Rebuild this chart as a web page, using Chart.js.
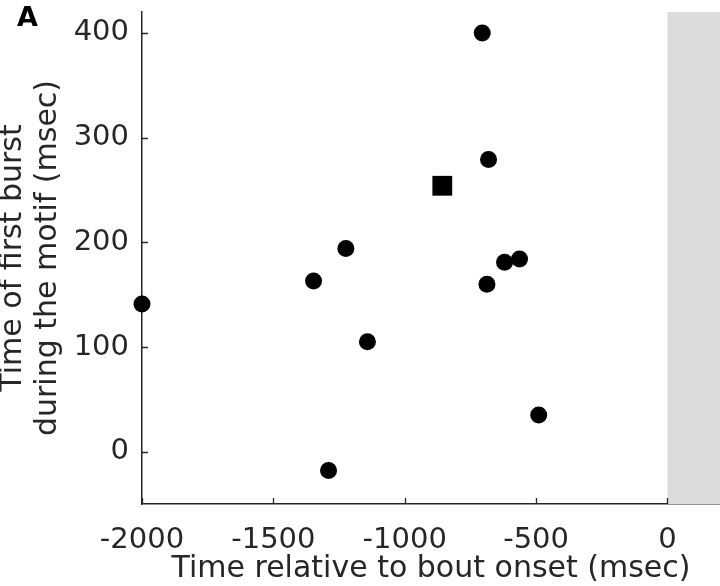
<!DOCTYPE html>
<html>
<head>
<meta charset="utf-8">
<script src="https://cdn.jsdelivr.net/npm/chart.js@4"></script>
<style>
  html, body { margin: 0; padding: 0; background: #fff; }
  #wrap { width: 720px; height: 586px; }
</style>
</head>
<body>
<div id="wrap"><canvas id="burstChart" width="720" height="586"></canvas></div>
<script>
// cells (circles): time relative to bout onset vs time of first burst
const cellX = [-2000, -1347, -1224, -1142, -1290, -705, -681, -620, -563, -687, -490];
const cellY = [141, 163, 194, 105, -18, 400, 279, 181, 184, 160, 35];
// mean (square)
const meanX = [-857];
const meanY = [254];

const xTicks = [-2000, -1500, -1000, -500, 0];
const yTicks = [0, 100, 200, 300, 400];
const xRange = [-2000, 200];
const yRange = [-50, 420];
const shadeRange = [0, 200];

const axisColor = "#262626";
const fontFamily = "'DejaVu Sans', sans-serif";

const toPoints = (xs, ys) => xs.map((x, i) => ({ x: x, y: ys[i] }));

// grey band after bout onset
const shadePlugin = {
    id: "shade",
    beforeDatasetsDraw(chart) {
        const { ctx, chartArea, scales } = chart;
        const x0 = scales.x.getPixelForValue(shadeRange[0]);
        const x1 = scales.x.getPixelForValue(shadeRange[1]);
        ctx.save();
        ctx.fillStyle = "#dcdcdc";
        ctx.fillRect(x0, chartArea.top, x1 - x0, chartArea.bottom - chartArea.top);
        ctx.restore();
    }
};

// inward tick marks + panel letter
const extrasPlugin = {
    id: "extras",
    afterDraw(chart) {
        const { ctx, chartArea, scales } = chart;
        ctx.save();
        ctx.strokeStyle = axisColor;
        ctx.lineWidth = 1.3;
        ctx.beginPath();
        xTicks.forEach(v => {
            const px = Math.round(scales.x.getPixelForValue(v)) + 0.5;
            ctx.moveTo(px, chartArea.bottom);
            ctx.lineTo(px, chartArea.bottom - 6);
        });
        yTicks.forEach(v => {
            const py = Math.round(scales.y.getPixelForValue(v)) + 0.5;
            ctx.moveTo(chartArea.left, py);
            ctx.lineTo(chartArea.left + 6, py);
        });
        ctx.stroke();

        ctx.fillStyle = "#000";
        ctx.font = "bold 27px " + fontFamily;
        ctx.textBaseline = "top";
        ctx.textAlign = "left";
        ctx.fillText("A", 17, 5);
        ctx.restore();
    }
};

new Chart(document.getElementById("burstChart"), {
    type: "scatter",
    data: {
        datasets: [
            {
                label: "cells",
                data: toPoints(cellX, cellY),
                backgroundColor: "#000",
                borderWidth: 0,
                pointStyle: "circle",
                pointRadius: 8.5,
                pointHoverRadius: 8.5,
                clip: false
            },
            {
                label: "mean",
                data: toPoints(meanX, meanY),
                backgroundColor: "#000",
                borderWidth: 0,
                pointStyle: "rect",
                pointRadius: 14,
                pointHoverRadius: 14,
                clip: false
            }
        ]
    },
    options: {
        responsive: false,
        animation: false,
        layout: { autoPadding: false, padding: { top: 12, right: 0, left: 0, bottom: 0 } },
        plugins: {
            legend: { display: false },
            tooltip: { enabled: false }
        },
        scales: {
            x: {
                type: "linear",
                min: xRange[0],
                max: xRange[1],
                afterBuildTicks: s => { s.ticks = xTicks.map(v => ({ value: v })); },
                afterFit: s => { s.height = 82; s.paddingLeft = 0; s.paddingRight = 0; },
                grid: { display: false },
                border: { display: true, color: axisColor, width: 1.5 },
                ticks: {
                    color: axisColor,
                    padding: 11,
                    maxRotation: 0,
                    callback: v => String(v),
                    font: { family: fontFamily, size: 29 }
                },
                title: {
                    display: true,
                    text: "Time relative to bout onset (msec)",
                    color: axisColor,
                    padding: { top: 3, bottom: 0 },
                    font: { family: fontFamily, size: 30, lineHeight: 1.1 }
                }
            },
            y: {
                type: "linear",
                min: yRange[0],
                max: yRange[1],
                afterBuildTicks: s => { s.ticks = yTicks.map(v => ({ value: v })); },
                afterFit: s => { s.width = 142; s.paddingTop = 0; s.paddingBottom = 0; },
                grid: { display: false },
                border: { display: true, color: axisColor, width: 1.5 },
                ticks: {
                    color: axisColor,
                    padding: 5,
                    callback: v => String(v),
                    font: { family: fontFamily, size: 29 }
                },
                title: {
                    display: true,
                    text: ["Time of first burst", "during the motif (msec)"],
                    color: axisColor,
                    padding: { top: -4, bottom: 0 },
                    font: { family: fontFamily, size: 30, lineHeight: 1.15 }
                }
            }
        }
    },
    plugins: [shadePlugin, extrasPlugin]
});
</script>
</body>
</html>
